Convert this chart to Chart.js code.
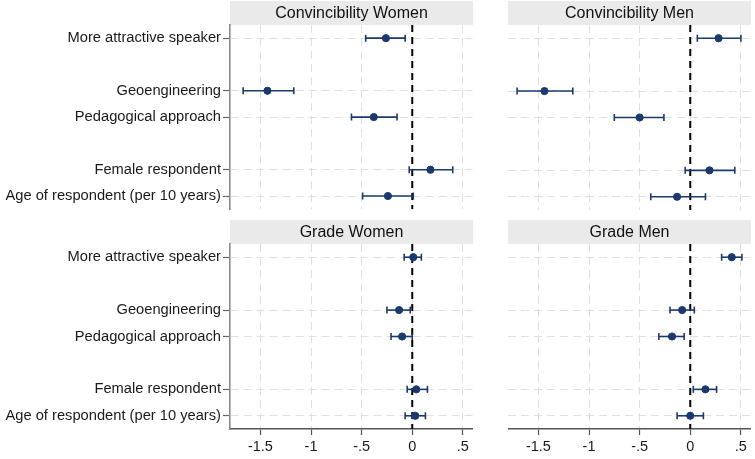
<!DOCTYPE html>
<html>
<head>
<meta charset="utf-8">
<script src="https://cdn.jsdelivr.net/npm/chart.js@4"></script>
<style>
  body { margin: 0; background: #fff; }
  #wrap { position: relative; width: 755px; height: 459px; overflow: hidden; }
  .panel { position: absolute; }
</style>
</head>
<body>
<div id="wrap">
  <div class="panel" style="left:0;top:0"><canvas id="convWomen" width="473" height="220"></canvas></div>
  <div class="panel" style="left:508px;top:0"><canvas id="convMen" width="243" height="220"></canvas></div>
  <div class="panel" style="left:0;top:220px"><canvas id="gradeWomen" width="473" height="239"></canvas></div>
  <div class="panel" style="left:508px;top:220px"><canvas id="gradeMen" width="243" height="239"></canvas></div>
</div>
<script>
// rows of the coefficient plot (empty slots at 2 and 5)
const rowLabels = ["More attractive speaker", "Geoengineering", "Pedagogical approach", "Female respondent", "Age of respondent (per 10 years)"];
const rowPos = [1, 3, 4, 6, 7];
const xTicks = [-1.5, -1, -0.5, 0, 0.5];
const xTickLabels = ["-1.5", "-1", "-.5", "0", ".5"];

// estimates and 95% intervals, one array per panel
const convWomenEst = [-0.26, -1.43, -0.38, 0.18, -0.24];
const convWomenLo = [-0.46, -1.67, -0.60, -0.03, -0.49];
const convWomenHi = [-0.07, -1.17, -0.15, 0.40, 0.01];

const convMenEst = [0.28, -1.44, -0.50, 0.19, -0.13];
const convMenLo = [0.07, -1.71, -0.75, -0.05, -0.39];
const convMenHi = [0.50, -1.16, -0.26, 0.44, 0.15];

const gradeWomenEst = [0.01, -0.13, -0.10, 0.04, 0.03];
const gradeWomenLo = [-0.08, -0.25, -0.21, -0.05, -0.07];
const gradeWomenHi = [0.09, -0.02, 0.00, 0.15, 0.13];

const gradeMenEst = [0.41, -0.08, -0.18, 0.15, 0.00];
const gradeMenLo = [0.31, -0.20, -0.31, 0.03, -0.13];
const gradeMenHi = [0.51, 0.04, -0.06, 0.26, 0.13];

const navy = "#1a3a6e";
const fontFam = "'Liberation Sans', Arial, sans-serif";

// gray strip with the panel title above the plot area
const stripPlugin = {
  id: "strip",
  beforeDraw(chart, args, opts) {
    const { ctx, chartArea } = chart;
    ctx.save();
    ctx.fillStyle = "#eaeaea";
    ctx.fillRect(chartArea.left, chartArea.top - 24, chartArea.right - chartArea.left, 24);
    ctx.fillStyle = "#111";
    ctx.font = "16px " + fontFam;
    ctx.textAlign = "center";
    ctx.textBaseline = "middle";
    ctx.fillText(opts.text, (chartArea.left + chartArea.right) / 2, chartArea.top - 11.5);
    ctx.restore();
  },
};

function makePanel(id, title, est, lo, hi, showY, showX) {
  const datasets = [];
  datasets.push({
    type: "scatter",
    data: est.map((v, i) => ({ x: v, y: rowPos[i] })),
    backgroundColor: navy,
    borderColor: navy,
    pointRadius: 3.6,
    order: 1,
  });
  lo.forEach((l, i) => {
    datasets.push({
      type: "line",
      data: [{ x: l, y: rowPos[i] }, { x: hi[i], y: rowPos[i] }],
      borderColor: navy,
      borderWidth: 1.6,
      pointStyle: "line",
      pointRotation: 90,
      pointRadius: 3.5,
      pointBorderColor: navy,
      pointBorderWidth: 1.6,
      order: 2,
    });
  });
  datasets.push({
    type: "line",
    data: [{ x: 0, y: 0.5 }, { x: 0, y: 7.5 }],
    borderColor: "#000",
    borderWidth: 2,
    borderDash: [7, 5],
    pointRadius: 0,
    order: 3,
  });

  new Chart(document.getElementById(id), {
    type: "scatter",
    data: { datasets },
    plugins: [stripPlugin],
    options: {
      responsive: false,
      animation: false,
      layout: { autoPadding: false, padding: { top: showX ? 24 : 25, bottom: showX ? 0 : 10, left: 0, right: 0 } },
      plugins: { legend: { display: false }, tooltip: { enabled: false }, strip: { text: title } },
      scales: {
        x: {
          type: "linear",
          min: -1.8,
          max: 0.6,
          afterBuildTicks: (s) => { s.ticks = xTicks.map((v) => ({ value: v })); },
          afterFit: (s) => { s.height = showX ? 30 : 0; },
          grid: { color: "#e0e0e0", lineWidth: 1, drawTicks: showX, tickLength: 6, tickColor: "#555", tickWidth: 1.2 },
          border: { display: showX, color: "#555", width: 1.5, dash: [8, 5] },
          ticks: {
            display: showX,
            padding: 3,
            color: "#1a1a1a",
            font: { family: fontFam, size: 14.5 },
            callback: (v) => xTickLabels[xTicks.indexOf(v)],
          },
        },
        y: {
          type: "linear",
          reverse: true,
          min: 0.5,
          max: 7.5,
          afterBuildTicks: (s) => { s.ticks = rowPos.map((v) => ({ value: v })); },
          afterFit: (s) => { s.width = showY ? 230 : 0; },
          grid: { color: "#e0e0e0", lineWidth: 1, drawTicks: showY, tickLength: 7, tickColor: "#666", tickWidth: 1.2 },
          border: { display: showY, color: "#8a8a8a", width: 1.6, dash: [8, 5] },
          ticks: {
            display: showY,
            padding: 2,
            color: "#1a1a1a",
            font: { family: fontFam, size: 14.7 },
            callback: (v) => rowLabels[rowPos.indexOf(v)],
          },
        },
      },
    },
  });
}

document.addEventListener("DOMContentLoaded", () => {
  makePanel("convWomen", "Convincibility Women", convWomenEst, convWomenLo, convWomenHi, true, false);
  makePanel("convMen", "Convincibility Men", convMenEst, convMenLo, convMenHi, false, false);
  makePanel("gradeWomen", "Grade Women", gradeWomenEst, gradeWomenLo, gradeWomenHi, true, true);
  makePanel("gradeMen", "Grade Men", gradeMenEst, gradeMenLo, gradeMenHi, false, true);
});
</script>
</body>
</html>
